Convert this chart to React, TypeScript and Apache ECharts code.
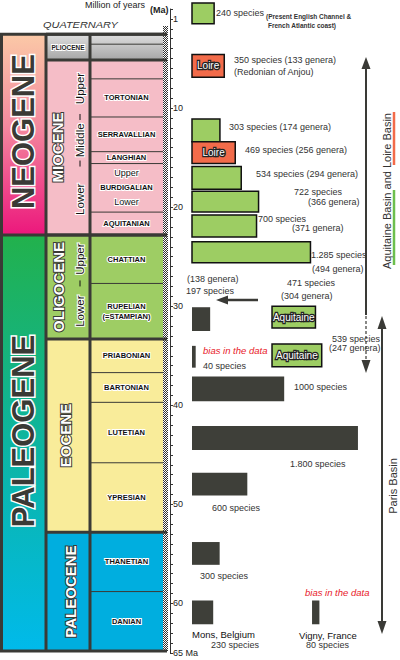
import React, { useEffect, useRef } from 'react';
import * as echarts from 'echarts';

// ---------------- DATA ----------------
// Time axis (Ma)
const axisMin = 0;
const axisMax = 65;
const axisTickLabels: Record<number, string> = { 1: '1', 10: '10', 20: '20', 30: '30', 40: '40', 50: '50', 60: '60', 65: '65 Ma' };

// Stratigraphic column (boundaries in Ma, as drawn on the picture's scale)
const eraNames = ['NEOGENE', 'PALEOGENE'];
const eraTop = [2.55, 22.8];
const eraBase = [22.8, 64.8];

const epochNames = ['PLIOCENE', 'MIOCENE', 'OLIGOCENE', 'EOCENE', 'PALEOCENE'];
const epochTop = [2.55, 5.15, 22.8, 33.3, 52.8];
const epochBase = [5.15, 22.8, 33.3, 52.8, 64.8];

const subNames = ['Upper', 'Middle', 'Lower', 'Upper', 'Lower'];
const subTop = [5.15, 10.9, 15.6, 22.8, 27.7];
const subBase = [10.9, 15.6, 22.8, 27.7, 33.3];
const subSeparators = [10.9, 15.6, 27.7];

const stageNames = ['', '', '', 'TORTONIAN', 'SERRAVALLIAN', 'LANGHIAN', 'BURDIGALIAN', 'AQUITANIAN', 'CHATTIAN', 'RUPELIAN\n(=STAMPIAN)', 'PRIABONIAN', 'BARTONIAN', 'LUTETIAN', 'YPRESIAN', 'THANETIAN', 'DANIAN'];
const stageTop = [2.55, 3.55, 5.15, 7.05, 10.9, 14.4, 15.6, 20.5, 22.8, 27.7, 33.3, 36.7, 39.7, 45.8, 52.8, 58.8];
const stageBase = [3.55, 5.15, 7.05, 10.9, 14.4, 15.6, 20.5, 22.8, 27.7, 33.3, 36.7, 39.7, 45.8, 52.8, 58.8, 64.8];

// Species bars
const barSpecies = [240, 350, 303, 469, 534, 722, 700, 1285, 197, 471, 539, 40, 1000, 1800, 600, 300, 230, 80];
const barTop = [-0.6, 4.6, 11.1, 13.4, 15.9, 18.4, 20.8, 23.5, 30.1, 30.0, 33.8, 34.0, 37.1, 42.1, 46.8, 53.8, 59.7, 59.7];
const barBase = [1.5, 6.9, 13.4, 15.6, 18.2, 20.5, 23.0, 25.6, 32.5, 32.2, 36.1, 36.2, 39.6, 44.5, 49.1, 56.1, 62.1, 62.1];
const barKind = ['green', 'loire', 'green', 'loire', 'green', 'green', 'green', 'green', 'dark', 'aquitaine', 'aquitaine', 'dark', 'dark', 'dark', 'dark', 'dark', 'dark', 'dark'];

// Annotation texts
const noteTexts = [
  'Million of years', '(Ma)', 'QUATERNARY',
  '240 species', '(Present English Channel &', 'French Atlantic coast)',
  '350 species (133 genera)', '(Redonian of Anjou)',
  '303 species (174 genera)', '469 species (256 genera)', '534 species (294 genera)',
  '722 species', '(366 genera)', '700 species', '(371 genera)',
  '1.285 species', '(494 genera)', '(138 genera)', '197 species', '471 species', '(304 genera)',
  '539 species', '(247 genera)', 'bias in the data', '40 species', '1000 species', '1.800 species',
  '600 species', '300 species', 'bias in the data', 'Mons, Belgium', '230 species', 'Vigny, France', '80 species',
];
const basinTexts = ['Aquitaine Basin and Loire Basin', 'Paris Basin'];

// ---------------- LAYOUT / STYLE ----------------
const FONT = "'Liberation Sans', Arial, Helvetica, sans-serif";
const FRAME = '#3a3a36';
const DARK = '#3e3f39';
const GREEN = '#9dcd63';
const LOIRE = '#f26b4a';

const COL = { left: 1.5, c1: 46, c2: 90, c3: 163, lineEnd: 167 };
const eraLabelX = 23.5;
const eraLabelShift = [-3, -12];
const eraFontSize = [31, 31];
const epochLabelX = [68, 57, 58, 65, 70];
const subLabelX = 80;
const stageLabelX = 126.5;
const barShift = [0, 0, 0, 0, 0, 0, 0, 0, 0, 868, 868, 0, 0, 0, 0, 0, 0, 1302];

const noteLayout: [number, number, string][] = [
  [85, 5, 'title'], [150, 10, 'ma'], [43, 25, 'quat'],
  [216, 12.5, 'label'], [266, 16, 'small'], [268, 25, 'small'],
  [234, 59.5, 'label'], [234, 72, 'label'],
  [229, 127, 'label'], [245, 150, 'label'], [256, 174, 'label'],
  [294, 192, 'label'], [308, 202, 'label'], [258, 219, 'label'], [292, 228, 'label'],
  [311, 255, 'label'], [312, 269, 'label'], [187, 279, 'label'], [186, 291, 'label'], [287, 283, 'label'], [281, 296, 'label'],
  [332, 339, 'label'], [329, 348, 'label'], [203, 350, 'bias'], [203, 366, 'label'], [294, 387, 'label'], [290, 464, 'label'],
  [212, 508, 'label'], [200, 576, 'label'], [305, 592, 'bias'], [192, 634, 'place'], [211, 645, 'label'], [299, 635, 'place'], [306, 645, 'label'],
];

const noteStyles: Record<string, any> = {
  title: { fontSize: 9, fill: '#222' },
  ma: { fontSize: 9, fontWeight: 'bold', fill: '#222' },
  quat: { fontSize: 9, fontStyle: 'italic', fill: '#333' },
  label: { fontSize: 9, fill: '#333' },
  small: { fontSize: 6.5, fontWeight: 'bold', fill: '#333' },
  bias: { fontSize: 9.5, fontStyle: 'italic', fill: '#e8202a' },
  place: { fontSize: 9.5, fill: '#111' },
};

function eraFill(i: number) {
  return i === 0
    ? new echarts.graphic.LinearGradient(0, 0, 0, 1, [
        { offset: 0, color: '#fbc9a7' },
        { offset: 0.45, color: '#f38a9e' },
        { offset: 1, color: '#ec177c' },
      ])
    : new echarts.graphic.LinearGradient(0, 0, 0, 1, [
        { offset: 0, color: '#22b14c' },
        { offset: 0.5, color: '#0db5a0' },
        { offset: 1, color: '#00baeb' },
      ]);
}

function epochFill(i: number) {
  if (i === 0)
    return new echarts.graphic.LinearGradient(0, 0, 0, 1, [
      { offset: 0, color: '#dedede' },
      { offset: 1, color: '#a6a6a6' },
    ]);
  return ['', '#f5bdc7', '#9ecd64', '#f9ec9a', '#00aedf'][i];
}

function buildOption() {
  const eraSeries = {
    type: 'custom', xAxisIndex: 0, yAxisIndex: 0, clip: false, z: 1,
    data: eraNames.map((_, i) => [eraTop[i], eraBase[i]]),
    encode: { y: [0, 1] },
    renderItem: (params: any, api: any) => {
      const i = params.dataIndex;
      const top = api.value(0), base = api.value(1);
      const a = api.coord([COL.left, top]);
      const b = api.coord([COL.c1, base]);
      const m = api.coord([eraLabelX, (top + base) / 2]);
      return {
        type: 'group',
        children: [
          { type: 'rect', shape: { x: a[0], y: a[1], width: b[0] - a[0], height: b[1] - a[1] }, style: { fill: eraFill(i) } },
          {
            type: 'text', x: m[0], y: m[1] + eraLabelShift[i], rotation: Math.PI / 2,
            style: { text: eraNames[i], fill: FRAME, stroke: '#fff', lineWidth: 3, fontSize: eraFontSize[i], fontWeight: 'bold', fontFamily: FONT, align: 'center', verticalAlign: 'middle' },
          },
        ],
      };
    },
  };

  const epochSeries = {
    type: 'custom', xAxisIndex: 0, yAxisIndex: 0, clip: false, z: 1,
    data: epochNames.map((_, i) => [epochTop[i], epochBase[i]]),
    encode: { y: [0, 1] },
    renderItem: (params: any, api: any) => {
      const i = params.dataIndex;
      const top = api.value(0), base = api.value(1);
      const a = api.coord([COL.c1, top]);
      const b = api.coord([COL.c3, base]);
      const m = api.coord([epochLabelX[i], (top + base) / 2]);
      const vertical = i !== 0;
      return {
        type: 'group',
        children: [
          { type: 'rect', shape: { x: a[0], y: a[1], width: b[0] - a[0], height: b[1] - a[1] }, style: { fill: epochFill(i) } },
          {
            type: 'text', x: m[0], y: m[1], rotation: vertical ? Math.PI / 2 : 0, z2: 10,
            style: vertical
              ? { text: epochNames[i], fill: '#fff', stroke: FRAME, lineWidth: 2, fontSize: 15, fontWeight: 'bold', fontFamily: FONT, align: 'center', verticalAlign: 'middle' }
              : { text: epochNames[i], fill: '#222', stroke: '#fff', lineWidth: 2, fontSize: 6.5, fontWeight: 'bold', fontFamily: FONT, align: 'center', verticalAlign: 'middle' },
          },
        ],
      };
    },
  };

  const stageSeries = {
    type: 'custom', xAxisIndex: 0, yAxisIndex: 0, clip: false, z: 2,
    data: stageNames.map((_, i) => [stageTop[i], stageBase[i]]),
    encode: { y: [0, 1] },
    renderItem: (params: any, api: any) => {
      const i = params.dataIndex;
      const top = api.value(0), base = api.value(1);
      const a = api.coord([COL.c2, top]);
      const b = api.coord([COL.c3, top]);
      const m = api.coord([stageLabelX, (top + base) / 2]);
      const children: any[] = [
        { type: 'line', shape: { x1: a[0], y1: a[1], x2: b[0], y2: b[1] }, style: { stroke: FRAME, lineWidth: 1 } },
      ];
      const name = stageNames[i];
      if (name === 'BURDIGALIAN') {
        children.push({
          type: 'text', x: m[0], y: m[1],
          style: {
            text: '{u|Upper}\n{b|BURDIGALIAN}\n{u|Lower}', align: 'center', verticalAlign: 'middle', fontFamily: FONT,
            rich: {
              u: { fontSize: 9, fill: '#111', stroke: '#fff', lineWidth: 2, lineHeight: 14.5, fontFamily: FONT },
              b: { fontSize: 7.5, fontWeight: 'bold', fill: '#111', stroke: '#fff', lineWidth: 2, lineHeight: 14.5, fontFamily: FONT },
            },
          },
        });
      } else if (name) {
        children.push({
          type: 'text', x: m[0], y: m[1],
          style: { text: name, fill: '#111', stroke: '#fff', lineWidth: 2, fontSize: 7.5, fontWeight: 'bold', fontFamily: FONT, align: 'center', verticalAlign: 'middle', lineHeight: 10 },
        });
      }
      return { type: 'group', children };
    },
  };

  const subSeries = {
    type: 'custom', xAxisIndex: 0, yAxisIndex: 0, clip: false, z: 3,
    data: subNames.map((_, i) => [subTop[i], subBase[i]]),
    encode: { y: [0, 1] },
    renderItem: (params: any, api: any) => {
      const i = params.dataIndex;
      const top = api.value(0), base = api.value(1);
      const m = api.coord([subLabelX, (top + base) / 2]);
      return {
        type: 'text', x: m[0], y: m[1], rotation: Math.PI / 2,
        style: { text: subNames[i], fill: '#111', stroke: '#fff', lineWidth: 2, fontSize: 11.5, fontFamily: FONT, align: 'center', verticalAlign: 'middle' },
      };
    },
  };

  const frameSeries = {
    type: 'custom', xAxisIndex: 0, yAxisIndex: 0, clip: false, z: 5,
    data: [[axisMin, axisMax]],
    encode: { y: [0, 1] },
    renderItem: (_params: any, api: any) => {
      const children: any[] = [];
      const L = (x0: number, m0: number, x1: number, m1: number, w: number) => {
        const a = api.coord([x0, m0]);
        const b = api.coord([x1, m1]);
        children.push({ type: 'line', shape: { x1: a[0], y1: a[1], x2: b[0], y2: b[1] }, style: { stroke: FRAME, lineWidth: w } });
      };
      // hatch (checker strip)
      for (let k = 0; k < 5; k++) {
        const a = api.coord([COL.c3 + 0.5 + k, 1.7]);
        const b = api.coord([COL.c3 + 0.5 + k, 64.8]);
        children.push({
          type: 'line',
          shape: { x1: a[0], y1: Math.round(a[1]), x2: b[0], y2: Math.round(b[1]) },
          style: { stroke: '#333', lineWidth: 1, lineDash: [1, 1], lineDashOffset: k % 2 },
        });
      }
      epochTop.forEach((t) => L(COL.c1, t, COL.lineEnd, t, 3));
      eraTop.forEach((t) => L(0, t, COL.lineEnd, t, 3));
      L(0, eraBase[eraBase.length - 1], COL.lineEnd, eraBase[eraBase.length - 1], 3);
      [COL.left, COL.c1, COL.c2].forEach((x) => L(x, eraTop[0], x, eraBase[eraBase.length - 1], 3));
      subSeparators.forEach((t) => {
        const p = api.coord([subLabelX, t]);
        children.push({ type: 'line', shape: { x1: p[0], y1: p[1] - 3, x2: p[0], y2: p[1] + 3 }, style: { stroke: '#111', lineWidth: 1 } });
      });
      return { type: 'group', children };
    },
  };

  const barSeries = {
    type: 'custom', xAxisIndex: 1, yAxisIndex: 1, clip: false, z: 2,
    data: barSpecies.map((s, i) => [barTop[i], barBase[i], s, barShift[i]]),
    encode: { x: [2, 3], y: [0, 1] },
    renderItem: (params: any, api: any) => {
      const i = params.dataIndex;
      const kind = barKind[i];
      const a = api.coord([api.value(3), api.value(0)]);
      const b = api.coord([api.value(3) + api.value(2), api.value(1)]);
      const shape = { x: a[0], y: a[1], width: b[0] - a[0], height: b[1] - a[1] };
      const fill = kind === 'dark' ? DARK : kind === 'loire' ? LOIRE : GREEN;
      const children: any[] = [
        { type: 'rect', shape, style: kind === 'dark' ? { fill } : { fill, stroke: '#111', lineWidth: 1.5 } },
      ];
      if (kind === 'loire' || kind === 'aquitaine') {
        children.push({
          type: 'text', x: shape.x + shape.width / 2, y: shape.y + shape.height / 2,
          style: { text: kind === 'loire' ? 'Loire' : 'Aquitaine', fill: '#fff', stroke: '#222', lineWidth: 2.5, fontSize: 10, fontFamily: FONT, align: 'center', verticalAlign: 'middle' },
        });
      }
      return { type: 'group', children };
    },
  };

  const graphics: any[] = [];
  noteTexts.forEach((t, i) => {
    const [x, y, sk] = noteLayout[i];
    const st = noteStyles[sk];
    graphics.push({
      type: 'text', x, y, scaleX: sk === 'quat' ? 1.22 : 1,
      style: { text: t, fontFamily: FONT, align: 'left', verticalAlign: 'middle', ...st },
    });
  });
  const ln = (x1: number, y1: number, x2: number, y2: number, w: number, color = FRAME, extra: any = {}) =>
    graphics.push({ type: 'line', shape: { x1, y1, x2, y2 }, style: { stroke: color, lineWidth: w, ...extra } });
  const tri = (pts: number[][]) => graphics.push({ type: 'polygon', shape: { points: pts }, style: { fill: FRAME } });

  // Aquitaine / Loire basin arrow
  ln(366, 66, 366, 315, 2);
  ln(366, 316, 366, 360, 1.2, FRAME, { lineDash: [3, 2] });
  tri([[366, 57], [361.5, 69], [370.5, 69]]);
  tri([[366, 373], [361.5, 360], [370.5, 360]]);
  // Paris basin arrow
  ln(382, 326, 382, 624, 2);
  tri([[382, 316], [377.5, 329], [386.5, 329]]);
  tri([[382, 634], [377.5, 621], [386.5, 621]]);
  // Left arrow
  ln(226, 300, 258, 300, 2.5);
  tri([[216, 300], [228, 295.5], [228, 304.5]]);
  // basin colour marks
  ln(394, 112, 394, 165, 2.5, LOIRE);
  ln(394, 190, 394, 265, 2.5, '#6cbf4e');
  graphics.push({
    type: 'text', x: 387, y: 191, rotation: Math.PI / 2,
    style: { text: basinTexts[0], fontFamily: FONT, fontSize: 11, fill: '#333', align: 'center', verticalAlign: 'middle' },
  });
  graphics.push({
    type: 'text', x: 393, y: 486, rotation: Math.PI / 2,
    style: { text: basinTexts[1], fontFamily: FONT, fontSize: 11, fill: '#333', align: 'center', verticalAlign: 'middle' },
  });

  return {
    animation: false,
    backgroundColor: '#fff',
    grid: [
      { left: 0, top: 9, width: 170, height: 644 },
      { left: 192, top: 9, width: 189, height: 644 },
    ],
    xAxis: [
      { gridIndex: 0, type: 'value', min: 0, max: 170, show: false },
      { gridIndex: 1, type: 'value', min: 0, max: 2050, show: false },
    ],
    yAxis: [
      {
        gridIndex: 0, type: 'value', min: axisMin, max: axisMax, interval: 1, inverse: true, position: 'right',
        axisLine: { show: true, onZero: false, lineStyle: { color: '#333', width: 1 } },
        axisTick: { show: true, length: 3, lineStyle: { color: '#333', width: 1 } },
        axisLabel: { show: true, margin: 3, fontSize: 9, color: '#222', fontFamily: FONT, formatter: (v: number) => axisTickLabels[v] ?? '' },
        splitLine: { show: false },
      },
      { gridIndex: 1, type: 'value', min: axisMin, max: axisMax, inverse: true, show: false },
    ],
    series: [eraSeries, epochSeries, stageSeries, subSeries, frameSeries, barSeries],
    graphic: { elements: graphics },
  };
}

export default function App() {
  const ref = useRef<HTMLDivElement>(null);
  useEffect(() => {
    const styleEl = document.createElement('style');
    styleEl.textContent = 'svg text { paint-order: stroke; }';
    document.head.appendChild(styleEl);
    const chart = echarts.init(ref.current!, null, { renderer: 'svg' });
    chart.setOption(buildOption() as any);
    return () => {
      chart.dispose();
      styleEl.remove();
    };
  }, []);
  return <div ref={ref} style={{ position: 'absolute', left: 0, top: 0, width: 400, height: 660, background: '#fff' }} />;
}
